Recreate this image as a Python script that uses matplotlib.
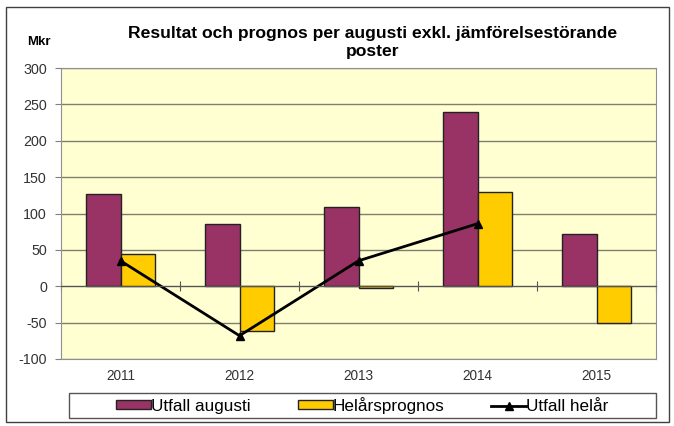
import matplotlib
matplotlib.use("Agg")
import matplotlib.pyplot as plt
from matplotlib.patches import Rectangle
import numpy as np

years = ["2011", "2012", "2013", "2014", "2015"]
utfall_augusti = [127, 85, 109, 240, 72]
helarsprognos = [45, -62, -2, 130, -50]
utfall_helar_years = ["2011", "2012", "2013", "2014"]
utfall_helar = [35, -68, 35, 86]
yticks = [-100, -50, 0, 50, 100, 150, 200, 250, 300]

plt.rcParams['font.family'] = ['Liberation Sans', 'DejaVu Sans']
plt.rcParams['axes.unicode_minus'] = False

fig = plt.figure(figsize=(6.74, 4.26), dpi=100)
fig.patch.set_facecolor('white')
# outer frame
fig.patches.append(Rectangle((6/674, 1 - 422/426), 663/674, 415/426, transform=fig.transFigure,
                             fill=False, edgecolor='#404040', linewidth=1.0))

ax = fig.add_axes([61/674, 1 - 359/426, 595/674, 291/426])
ax.set_facecolor('#FFFFD2')

x = np.arange(len(years))
w = 0.29
ax.bar(x - w/2, utfall_augusti, width=w, color='#993366', edgecolor='#222222', linewidth=1.0,
       label='Utfall augusti', zorder=3)
ax.bar(x + w/2, helarsprognos, width=w, color='#FFCC00', edgecolor='#222222', linewidth=1.0,
       label='Helårsprognos', zorder=3)
xl = [years.index(y) for y in utfall_helar_years]
ax.plot(xl, utfall_helar, color='black', linewidth=2.0, marker='^', markersize=6,
        label='Utfall helår', zorder=4)

ax.set_xlim(-0.5, len(years) - 0.5)
ax.set_ylim(-100, 300)
ax.set_yticks(yticks)
ax.yaxis.grid(True, color='#7f7f70', linewidth=1.0, zorder=1)
ax.tick_params(axis='y', direction='out', length=4, color='#808080', labelsize=10.3,
               labelcolor='#333333', pad=6)

# zero axis with ticks between categories
ax.spines['bottom'].set_position(('data', 0))
ax.spines['bottom'].set_color('#555555')
ax.spines['bottom'].set_zorder(5)
ax.set_xticks(np.arange(len(years) + 1) - 0.5)
ax.tick_params(axis='x', direction='inout', length=7, color='#555555', labelbottom=False)
for s in ['left', 'right', 'top']:
    ax.spines[s].set_color('#909090')

sec = ax.secondary_xaxis(0)
sec.set_xticks(x, years)
sec.tick_params(length=0, labelsize=9.8, labelcolor='#333333', pad=7)
sec.spines['bottom'].set_color('#909090')

fig.text(373/674, 1 - 42.5/426, 'Resultat och prognos per augusti exkl. jämförelsestörande\nposter',
         ha='center', va='center', fontsize=12.6, fontweight='bold', linespacing=1.2)
fig.text(38.5/674, 1 - 42/426, 'Mkr', ha='center', va='center', fontsize=9.5, fontweight='bold')

handles, labels = ax.get_legend_handles_labels()
order = [labels.index('Utfall augusti'), labels.index('Helårsprognos'), labels.index('Utfall helår')]
handles = [handles[i] for i in order]
labels = [labels[i] for i in order]
leg = fig.legend(handles, labels, loc='center left',
                 bbox_to_anchor=(116/674, 1 - 405.5/426),
                 ncol=3, frameon=False, fontsize=12.3,
                 handlelength=2.05, handleheight=0.45, handletextpad=0.0,
                 columnspacing=2.75, borderpad=0, borderaxespad=0)
fig.patches.append(Rectangle((69/674, 1 - 418/426), 587/674, 25/426, transform=fig.transFigure,
                             fill=False, edgecolor='#555555', linewidth=1.0))

fig.savefig('out.png', dpi=100)
